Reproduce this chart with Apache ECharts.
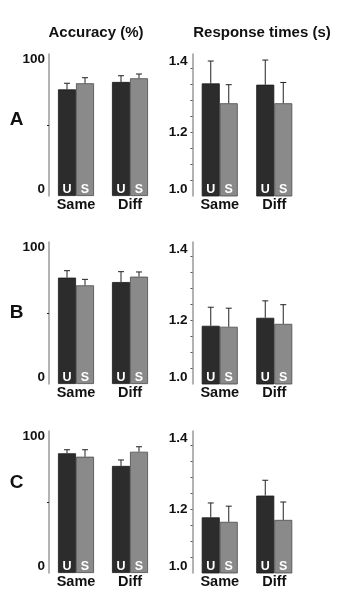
<!DOCTYPE html>
<html><head><meta charset="utf-8">
<script src="https://cdn.jsdelivr.net/npm/echarts@6/dist/echarts.min.js"></script>
<style>html,body{margin:0;padding:0;background:#fff}#c{width:344px;height:602px}</style>
</head><body><div id="c"></div>
<script>
const categories = ['Same', 'Diff'];
const barLetters = ['U', 'S'];
const rowLabels = ['A', 'B', 'C'];
const colTitles = ['Accuracy (%)', 'Response times (s)'];
const accTicks = [0, 100];
const rtTicks = [1.0, 1.2, 1.4];

// Accuracy (%) means and upward error
const accA_U = [75.1, 80.3], accA_Uerr = [4.3, 4.4];
const accA_S = [79.4, 82.9], accA_Serr = [3.9, 3.0];
const accB_U = [74.9, 71.8], accB_Uerr = [4.9, 7.3];
const accB_S = [69.5, 75.6], accB_Serr = [4.2, 3.3];
const accC_U = [84.3, 75.4], accC_Uerr = [2.5, 4.2];
const accC_S = [81.9, 85.4], accC_Serr = [4.9, 3.5];

// Response times (s)
const rtA_U = [1.352, 1.348], rtA_Uerr = [0.070, 0.077];
const rtA_S = [1.290, 1.290], rtA_Serr = [0.058, 0.065];
const rtB_U = [1.182, 1.207], rtB_Uerr = [0.058, 0.053];
const rtB_S = [1.179, 1.188], rtB_Serr = [0.058, 0.060];
const rtC_U = [1.174, 1.242], rtC_Uerr = [0.045, 0.048];
const rtC_S = [1.160, 1.166], rtC_Serr = [0.049, 0.056];

const panels = [
  {U: accA_U, Ue: accA_Uerr, S: accA_S, Se: accA_Serr, kind: 'acc'},
  {U: rtA_U, Ue: rtA_Uerr, S: rtA_S, Se: rtA_Serr, kind: 'rt'},
  {U: accB_U, Ue: accB_Uerr, S: accB_S, Se: accB_Serr, kind: 'acc'},
  {U: rtB_U, Ue: rtB_Uerr, S: rtB_S, Se: rtB_Serr, kind: 'rt'},
  {U: accC_U, Ue: accC_Uerr, S: accC_S, Se: accC_Serr, kind: 'acc'},
  {U: rtC_U, Ue: rtC_Uerr, S: rtC_S, Se: rtC_Serr, kind: 'rt'}
];

const FONT = '"Liberation Sans", Arial, Helvetica, sans-serif';
const rowTops = [54, 242, 431];
const gridH = 142;
const colLeft = [49, 192.5];
const colW = [108, 109];
const BW = 18;

const richShift = {
  up: {padding: [0, 0, 13, 0]},
  dn: {padding: [10, 0, 0, 0]},
  up7: {padding: [0, 0, 14, 0]}
};

const grids = [], xAxes = [], yAxes = [], series = [];
panels.forEach((p, i) => {
  const row = Math.floor(i / 2), col = i % 2;
  grids.push({left: colLeft[col], top: rowTops[row], width: colW[col], height: gridH});
  xAxes.push({
    type: 'category', gridIndex: i, data: categories,
    axisLine: {show: false}, axisTick: {show: false},
    axisLabel: {color: '#111', fontWeight: 'bold', fontSize: 14.5, fontFamily: FONT, margin: 1}
  });
  if (p.kind === 'acc') {
    yAxes.push({
      type: 'value', gridIndex: i, min: 0, max: 100,
      axisLine: {show: true, lineStyle: {color: '#9a9a9a', width: 1.5}},
      axisTick: {show: true, customValues: [50], length: 2, lineStyle: {color: '#222'}},
      axisLabel: {customValues: accTicks, color: '#111', fontWeight: 'bold', fontSize: 13.5, fontFamily: FONT, margin: 4,
        formatter: v => (Number(v) === 0 ? '{up|0}' : '{dn|' + v + '}'), rich: richShift},
      splitLine: {show: false}
    });
  } else {
    yAxes.push({
      type: 'value', gridIndex: i, min: 1.0, max: 1.444,
      axisLine: {show: true, lineStyle: {color: '#9a9a9a', width: 1.5}},
      axisTick: {show: true, customValues: [1.05, 1.1, 1.15, 1.2, 1.25, 1.3, 1.35, 1.4], length: 2, lineStyle: {color: '#555'}},
      axisLabel: {customValues: rtTicks, color: '#111', fontWeight: 'bold', fontSize: 13.5, fontFamily: FONT, margin: 5,
        formatter: v => {
          const s = Number(v).toFixed(1);
          if (s === '1.0') return '{up|' + s + '}';
          if (s === '1.4') return '{up7|' + s + '}';
          return s;
        }, rich: richShift},
      splitLine: {show: false}
    });
  }
  const lbl = (t) => ({show: true, position: 'insideBottom', distance: 0, formatter: t,
    color: '#fff', fontWeight: 'bold', fontSize: 12.5, fontFamily: FONT});
  series.push({
    type: 'bar', xAxisIndex: i, yAxisIndex: i, data: p.U, barWidth: BW, barGap: '0%',
    itemStyle: {color: '#2c2c2c', borderColor: '#1a1a1a', borderWidth: 0.8},
    label: lbl(barLetters[0]), silent: true
  });
  series.push({
    type: 'bar', xAxisIndex: i, yAxisIndex: i, data: p.S, barWidth: BW, barGap: '0%',
    itemStyle: {color: '#8a8a8a', borderColor: '#4a4a4a', borderWidth: 0.8},
    label: lbl(barLetters[1]), silent: true
  });
  const errData = [];
  categories.forEach((c, k) => {
    errData.push([k, p.U[k], p.Ue[k], -1]);
    errData.push([k, p.S[k], p.Se[k], 1]);
  });
  series.push({
    type: 'custom', xAxisIndex: i, yAxisIndex: i, data: errData, z: 5, silent: true,
    renderItem: (params, api) => {
      const k = api.value(0), v = api.value(1), e = api.value(2), side = api.value(3);
      const p0 = api.coord([k, v]);
      const p1 = api.coord([k, v + e]);
      const x = p0[0] + side * BW / 2;
      const st = {stroke: '#222', lineWidth: 1};
      return {type: 'group', children: [
        {type: 'line', shape: {x1: x, y1: p0[1], x2: x, y2: p1[1]}, style: st},
        {type: 'line', shape: {x1: x - 3, y1: p1[1], x2: x + 3, y2: p1[1]}, style: st}
      ]};
    }
  });
});

const graphics = [
  {type: 'text', x: 96, y: 33, style: {text: colTitles[0], fill: '#111', font: 'bold 15px ' + FONT, align: 'center', verticalAlign: 'middle'}},
  {type: 'text', x: 262, y: 33, style: {text: colTitles[1], fill: '#111', font: 'bold 15px ' + FONT, align: 'center', verticalAlign: 'middle'}}
];
const letterY = [120, 313, 483];
rowLabels.forEach((t, r) => {
  graphics.push({type: 'text', x: 16.5, y: letterY[r], style: {text: t, fill: '#111', font: 'bold 19px ' + FONT, align: 'center', verticalAlign: 'middle'}});
});

const chart = echarts.init(document.getElementById('c'), null, {renderer: 'canvas'});
chart.setOption({
  animation: false,
  backgroundColor: '#fff',
  grid: grids, xAxis: xAxes, yAxis: yAxes, series: series, graphic: graphics
});
</script></body></html>
